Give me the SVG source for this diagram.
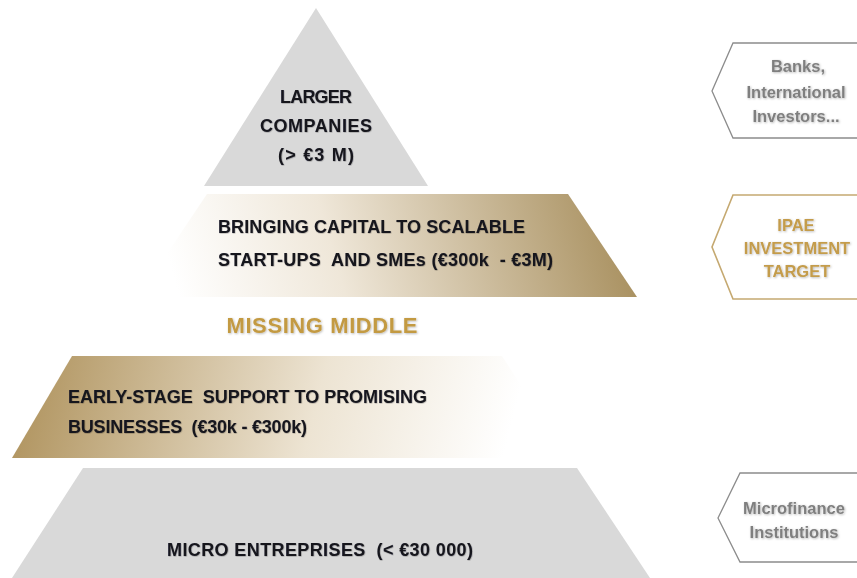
<svg xmlns="http://www.w3.org/2000/svg" width="857" height="578" viewBox="0 0 857 578">
  <defs>
    <linearGradient id="goldUp" gradientUnits="userSpaceOnUse" x1="180" y1="300" x2="620" y2="175">
      <stop offset="0" stop-color="#ffffff"/>
      <stop offset="0.35" stop-color="#efe7d9"/>
      <stop offset="1" stop-color="#a68d5b"/>
    </linearGradient>
    <linearGradient id="goldDown" gradientUnits="userSpaceOnUse" x1="30" y1="350" x2="500" y2="470">
      <stop offset="0" stop-color="#b0945f"/>
      <stop offset="0.6" stop-color="#ede4d3"/>
      <stop offset="1" stop-color="#ffffff"/>
    </linearGradient>
    <filter id="glow" x="-10%" y="-30%" width="120%" height="160%">
      <feDropShadow dx="0.8" dy="0.8" stdDeviation="0.9" flood-color="#000" flood-opacity="0.3"/>
    </filter>
    <filter id="soft" x="-10%" y="-30%" width="120%" height="160%">
      <feDropShadow dx="0.5" dy="0.5" stdDeviation="0.5" flood-color="#000" flood-opacity="0.35"/>
    </filter>
  </defs>
  <style>
    .grey { fill: #d9d9d9; }
    .lbl { font-family: "Liberation Sans", Arial, sans-serif; font-weight: bold; font-size: 18px; fill: #15151f; filter: url(#soft); }
    .mid { text-anchor: middle; }
    .side { font-family: "Liberation Sans", Arial, sans-serif; font-weight: bold; font-size: 16.5px; text-anchor: middle; filter: url(#glow); }
    .sideGrey { fill: #7f7f7f; }
    .sideGold { fill: #c49c4c; }
    .frameGrey { fill: none; stroke: #8c8c8c; stroke-width: 1.3; }
    .frameGold { fill: none; stroke: #c5a971; stroke-width: 1.6; }
  </style>
  <rect width="857" height="578" fill="#ffffff"/>

  <!-- pyramid tiers -->
  <g id="tier-large">
    <polygon class="grey" points="316,8 428,186 204,186"/>
    <text class="lbl mid" x="316" y="103" textLength="72">LARGER</text>
    <text class="lbl mid" x="316" y="132" textLength="112">COMPANIES</text>
    <text class="lbl mid" x="316" y="161" textLength="76">(&gt; €3 M)</text>
  </g>

  <g id="tier-scalable">
    <polygon fill="url(#goldUp)" points="207,194 568,194 637,297 138,297"/>
    <text class="lbl" x="218" y="233" textLength="307">BRINGING CAPITAL TO SCALABLE</text>
    <text class="lbl" x="218" y="266" textLength="335" xml:space="preserve">START-UPS  AND SMEs (€300k  - €3M)</text>
  </g>

  <g id="missing-middle">
    <text x="322" y="333" text-anchor="middle" font-family="'Liberation Sans', Arial, sans-serif" font-weight="bold" font-size="22" fill="#c39a42" textLength="191" filter="url(#glow)">MISSING MIDDLE</text>
  </g>

  <g id="tier-early">
    <polygon fill="url(#goldDown)" points="72,356 502,356 568,458 12,458"/>
    <text class="lbl" x="68" y="403" textLength="359" xml:space="preserve">EARLY-STAGE  SUPPORT TO PROMISING</text>
    <text class="lbl" x="68" y="433" textLength="239" xml:space="preserve">BUSINESSES  (€30k - €300k)</text>
  </g>

  <g id="tier-micro">
    <polygon class="grey" points="83,468 577,468 650,578 12,578"/>
    <text class="lbl" x="167" y="556" textLength="306" xml:space="preserve">MICRO ENTREPRISES  (&lt; €30 000)</text>
  </g>

  <!-- side tags -->
  <g id="tag-banks">
    <polyline class="frameGrey" points="860,43 733,43 712,91 733,138 860,138"/>
    <text class="side sideGrey" x="798" y="72">Banks,</text>
    <text class="side sideGrey" x="796" y="98">International</text>
    <text class="side sideGrey" x="796" y="122">Investors...</text>
  </g>

  <g id="tag-ipae">
    <polyline class="frameGold" points="860,195 733,195 712,247 733,299 860,299"/>
    <text class="side sideGold" x="796" y="231">IPAE</text>
    <text class="side sideGold" x="797" y="254">INVESTMENT</text>
    <text class="side sideGold" x="797" y="277">TARGET</text>
  </g>

  <g id="tag-micro">
    <polyline class="frameGrey" points="860,473 740,473 718,518 740,562 860,562"/>
    <text class="side sideGrey" x="794" y="514">Microfinance</text>
    <text class="side sideGrey" x="794" y="538">Institutions</text>
  </g>

  <g id="connectors"></g>
</svg>
